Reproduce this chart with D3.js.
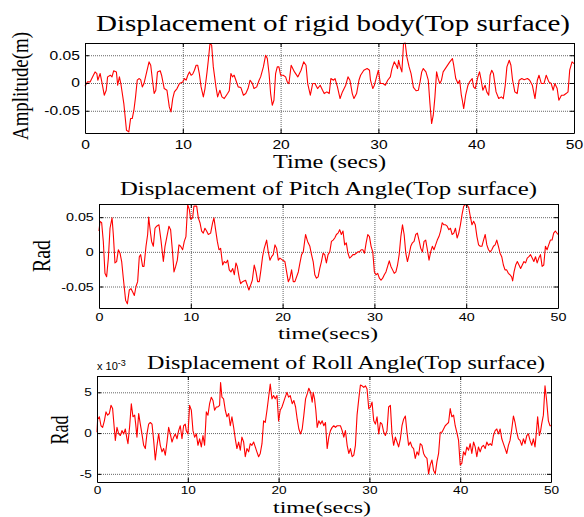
<!DOCTYPE html>
<html lang="en">
<head>
<meta charset="UTF-8">
<title>Displacement of Top surface</title>
<script src="https://d3js.org/d3.v7.min.js"></script>
<style>
  body { margin: 0; background: #fff; }
  .title, .label { font-family: "Liberation Serif", "Times New Roman", Times, serif; font-weight: 400; fill: #000; }
  .tick text { font-family: "Liberation Sans", Arial, sans-serif; fill: #000; }
  .grid line { stroke: #666; stroke-dasharray: 1,1; stroke-width: 1; }
  .grid path { display: none; }
  .frame path, .frame line { stroke: #000; }
  .exp { font-family: "Liberation Sans", Arial, sans-serif; font-size: 11px; }
</style>
</head>
<body>
<svg id="chart" width="584" height="517"></svg>
<script>
// tick values
const timeTicks = [0, 10, 20, 30, 40, 50];
const rigidTicks = [-0.05, 0, 0.05];
const pitchTicks = [-0.05, 0, 0.05];
const rollTicks = [-5, 0, 5];

// [time (s), displacement (m)]
const rigidSeries = [[0.00,-0.006],[0.24,0.002],[0.52,0.002],[0.86,0.014],[1.03,0.020],[1.21,0.017],[1.31,0.005],[1.55,0.017],[1.72,0.002],[1.97,-0.022],[2.17,-0.013],[2.31,0.011],[2.59,0.014],[2.76,0.011],[2.93,0.022],[3.21,0.020],[3.34,-0.004],[3.52,0.011],[3.69,-0.004],[3.97,-0.037],[4.24,-0.085],[4.48,-0.088],[4.66,-0.064],[4.83,-0.064],[5.00,-0.049],[5.17,-0.025],[5.34,0.005],[5.52,0.008],[5.69,0.006],[5.86,-0.007],[6.03,-0.001],[6.31,0.020],[6.55,0.038],[6.72,0.032],[6.90,0.005],[7.07,-0.019],[7.24,-0.013],[7.41,0.020],[7.69,0.022],[7.83,0.014],[8.10,-0.010],[8.38,-0.013],[8.62,-0.043],[8.79,-0.052],[8.97,-0.028],[9.14,-0.016],[9.41,-0.010],[9.66,-0.001],[10.00,0.002],[10.17,0.008],[10.34,0.005],[10.51,0.014],[10.68,0.020],[10.85,0.014],[11.01,0.016],[11.19,0.023],[11.36,0.032],[11.52,0.032],[11.69,0.017],[11.87,-0.007],[12.10,-0.025],[12.27,-0.010],[12.48,0.020],[12.61,0.041],[12.78,0.071],[12.95,0.068],[13.12,0.029],[13.39,-0.007],[13.56,-0.025],[13.79,-0.013],[14.00,-0.025],[14.24,-0.028],[14.58,-0.019],[14.75,-0.014],[14.92,0.017],[15.08,0.011],[15.25,0.014],[15.43,0.005],[15.66,-0.007],[15.93,-0.008],[16.20,-0.022],[16.44,-0.019],[16.67,-0.010],[16.88,0.005],[17.12,-0.001],[17.28,-0.010],[17.56,-0.007],[17.80,0.005],[17.96,0.011],[18.24,0.029],[18.47,0.050],[18.64,0.044],[18.82,0.017],[18.98,-0.019],[19.15,-0.040],[19.32,-0.031],[19.49,0.017],[19.66,0.029],[19.83,0.029],[20.00,0.014],[20.27,0.014],[20.51,0.011],[20.68,0.002],[20.85,-0.001],[21.08,0.032],[21.42,0.020],[21.76,0.011],[22.09,0.023],[22.36,0.038],[22.60,0.032],[22.77,-0.001],[23.04,-0.022],[23.28,-0.001],[23.51,-0.001],[23.78,-0.010],[24.05,-0.004],[24.29,-0.013],[24.46,-0.019],[24.73,-0.016],[24.97,-0.019],[25.14,0.008],[25.41,0.005],[25.57,0.008],[25.81,-0.007],[26.08,-0.028],[26.32,-0.016],[26.66,-0.004],[26.89,0.011],[27.09,0.005],[27.33,-0.019],[27.50,-0.028],[27.77,-0.019],[28.01,0.005],[28.18,0.014],[28.51,0.023],[28.85,0.026],[29.09,0.023],[29.19,0.005],[29.43,-0.010],[29.59,-0.004],[29.86,0.014],[30.00,0.023],[30.20,-0.001],[30.47,-0.001],[30.71,-0.004],[30.95,0.005],[31.22,0.011],[31.39,0.026],[31.62,0.038],[31.82,0.032],[31.96,0.026],[32.06,0.041],[32.23,0.029],[32.40,0.020],[32.57,0.071],[32.74,0.072],[32.91,0.047],[33.14,0.029],[33.34,0.017],[33.58,-0.008],[33.85,-0.014],[34.09,-0.013],[34.26,0.002],[34.43,0.020],[34.59,0.026],[34.86,0.020],[35.10,0.005],[35.27,-0.037],[35.44,-0.073],[35.61,-0.058],[35.78,-0.025],[35.95,0.020],[36.11,0.008],[36.28,-0.001],[36.45,0.005],[36.62,0.020],[36.96,0.029],[37.30,0.038],[37.57,0.044],[37.70,0.032],[37.91,0.008],[38.14,-0.001],[38.31,0.005],[38.48,-0.022],[38.58,-0.031],[38.72,-0.046],[38.92,-0.022],[39.16,-0.004],[39.32,0.002],[39.59,0.008],[39.73,-0.007],[39.90,-0.010],[40.17,0.011],[40.34,0.020],[40.51,0.005],[40.68,-0.013],[40.91,-0.004],[41.08,-0.016],[41.28,-0.022],[41.42,0.014],[41.59,0.023],[41.76,0.017],[42.03,-0.016],[42.30,-0.028],[42.57,-0.025],[42.77,-0.028],[42.97,-0.004],[43.14,0.029],[43.38,0.041],[43.55,0.032],[43.72,0.005],[43.95,-0.016],[44.19,-0.019],[44.39,0.005],[44.66,0.008],[44.90,0.006],[45.24,0.008],[45.47,0.005],[45.74,-0.004],[46.01,-0.028],[46.25,0.005],[46.42,0.014],[46.66,-0.001],[46.93,-0.001],[47.16,0.014],[47.43,0.002],[47.67,-0.001],[47.87,-0.013],[48.04,-0.001],[48.28,-0.010],[48.45,-0.031],[48.72,-0.022],[48.95,-0.022],[49.19,-0.019],[49.39,-0.016],[49.56,0.023],[49.80,0.038],[50.00,0.035]];

// [time (s), pitch angle (rad)]
const pitchSeries = [[0.00,0.030],[0.11,0.044],[0.29,0.042],[0.47,0.015],[0.65,-0.031],[0.83,-0.036],[1.02,-0.009],[1.20,0.034],[1.42,0.049],[1.56,0.025],[1.74,-0.016],[1.92,-0.014],[2.11,0.003],[2.29,-0.002],[2.47,-0.014],[2.65,-0.038],[2.90,-0.070],[3.09,-0.075],[3.30,-0.055],[3.48,-0.053],[3.67,-0.058],[3.85,-0.063],[4.03,-0.050],[4.21,-0.043],[4.39,-0.007],[4.54,-0.004],[4.75,-0.021],[4.90,-0.021],[5.12,0.008],[5.30,0.025],[5.41,0.050],[5.55,0.034],[5.73,0.015],[5.92,0.008],[6.10,0.034],[6.28,0.037],[6.53,0.039],[6.75,0.017],[7.01,-0.014],[7.19,0.008],[7.37,0.020],[7.62,0.037],[7.80,0.032],[7.99,0.003],[8.17,-0.029],[8.35,-0.021],[8.53,-0.012],[8.71,0.010],[8.89,0.008],[9.11,0.003],[9.29,0.015],[9.47,0.022],[9.66,0.068],[9.84,0.061],[9.98,0.047],[10.20,0.049],[10.34,0.066],[10.64,0.066],[10.82,0.049],[11.00,0.042],[11.18,0.030],[11.36,0.027],[11.54,0.034],[11.72,0.030],[11.91,0.025],[12.16,0.027],[12.38,0.042],[12.52,0.049],[12.70,0.032],[12.89,0.015],[13.07,0.003],[13.25,0.005],[13.47,-0.019],[13.65,-0.014],[13.83,-0.016],[14.01,-0.012],[14.19,-0.026],[14.37,-0.029],[14.56,-0.024],[14.74,-0.033],[14.92,-0.016],[15.06,-0.021],[15.28,-0.038],[15.43,-0.046],[15.64,-0.043],[15.79,-0.042],[15.97,-0.041],[16.15,-0.048],[16.33,-0.055],[16.52,-0.048],[16.70,-0.041],[16.91,-0.019],[17.10,-0.029],[17.28,-0.043],[17.46,-0.043],[17.64,-0.026],[17.82,-0.007],[18.00,0.005],[18.26,0.017],[18.44,0.000],[18.62,-0.012],[18.80,-0.007],[18.98,-0.004],[19.17,0.010],[19.35,0.005],[19.53,-0.012],[19.71,-0.009],[20.00,-0.012],[20.25,-0.014],[20.44,-0.029],[20.62,-0.043],[20.80,-0.038],[20.98,-0.026],[21.16,-0.043],[21.34,-0.043],[21.71,-0.029],[21.89,-0.016],[22.07,-0.004],[22.25,0.000],[22.50,0.025],[22.72,0.015],[22.97,0.008],[23.15,-0.004],[23.33,-0.014],[23.51,-0.033],[23.69,-0.038],[23.87,-0.036],[24.05,-0.024],[24.23,-0.014],[24.41,-0.002],[24.59,-0.004],[24.77,-0.016],[24.95,-0.004],[25.14,0.000],[25.32,0.015],[25.50,0.017],[25.68,0.020],[25.86,0.025],[26.04,0.027],[26.22,0.032],[26.40,0.025],[26.58,0.030],[26.76,0.010],[26.94,0.013],[27.12,-0.002],[27.30,-0.009],[27.48,-0.007],[27.66,-0.004],[27.84,-0.004],[28.02,-0.002],[28.20,0.000],[28.38,0.000],[28.56,0.003],[28.74,0.003],[28.92,-0.002],[29.10,0.013],[29.28,0.025],[29.46,0.022],[29.64,0.008],[29.82,0.000],[30.00,-0.029],[30.18,-0.033],[30.36,-0.031],[30.54,-0.038],[30.72,-0.041],[30.90,-0.038],[31.08,-0.033],[31.26,-0.029],[31.44,-0.021],[31.62,-0.013],[31.80,-0.021],[31.98,-0.026],[32.16,-0.031],[32.34,-0.029],[32.52,-0.019],[32.70,-0.004],[32.88,0.022],[33.06,0.039],[33.24,0.025],[33.42,-0.002],[33.60,-0.014],[33.78,-0.004],[33.96,0.008],[34.14,0.013],[34.32,0.015],[34.50,0.025],[34.68,0.027],[34.86,0.017],[35.05,0.005],[35.23,0.000],[35.41,0.015],[35.59,0.017],[35.77,0.003],[35.95,-0.012],[36.13,0.000],[36.31,0.008],[36.49,0.003],[36.67,0.010],[36.85,0.017],[37.03,0.022],[37.21,0.030],[37.39,0.042],[37.57,0.039],[37.75,0.039],[37.93,0.037],[38.11,0.032],[38.29,0.034],[38.47,0.025],[38.65,0.027],[38.83,0.034],[39.01,0.020],[39.19,0.027],[39.37,0.039],[39.55,0.054],[39.73,0.066],[39.91,0.068],[40.09,0.068],[40.27,0.064],[40.45,0.051],[40.63,0.039],[40.81,0.044],[40.99,0.039],[41.17,0.022],[41.35,0.010],[41.53,0.008],[41.71,0.008],[41.89,0.017],[42.07,0.025],[42.25,0.010],[42.43,0.003],[42.61,0.000],[42.79,0.003],[42.97,0.008],[43.15,0.010],[43.33,0.017],[43.51,0.008],[43.69,-0.002],[43.87,-0.007],[44.05,-0.019],[44.23,-0.026],[44.41,-0.026],[44.59,-0.031],[44.77,-0.033],[44.95,-0.036],[45.06,-0.042],[45.21,-0.029],[45.39,-0.019],[45.57,-0.014],[45.75,-0.019],[45.93,-0.024],[46.11,-0.019],[46.29,-0.014],[46.47,-0.016],[46.65,-0.009],[46.83,-0.007],[47.01,-0.004],[47.19,-0.009],[47.37,-0.014],[47.55,-0.007],[47.73,-0.016],[47.91,-0.009],[48.09,-0.004],[48.27,-0.021],[48.45,-0.019],[48.63,0.008],[48.81,0.003],[48.99,0.010],[49.17,0.017],[49.35,0.017],[49.53,0.027],[49.71,0.030],[50.00,0.025]];

// [time (s), roll angle (rad x 10^-3)]
const rollSeries = [[0.00,0.1],[0.07,1.7],[0.26,2.0],[0.44,0.9],[0.62,0.7],[0.81,1.5],[0.99,2.6],[1.17,2.2],[1.36,2.4],[1.54,3.4],[1.72,3.0],[1.91,0.5],[2.02,-0.9],[2.20,0.7],[2.39,-0.1],[2.57,-0.3],[2.75,0.3],[2.94,-0.1],[3.12,0.5],[3.30,-0.7],[3.41,-1.3],[3.60,0.9],[3.78,3.6],[3.96,2.0],[4.15,2.2],[4.26,1.1],[4.40,-0.5],[4.59,2.4],[4.77,1.1],[4.95,-0.1],[5.14,-1.5],[5.32,-1.9],[5.50,-0.1],[5.69,1.1],[5.87,1.3],[6.06,1.1],[6.24,-0.9],[6.42,-3.3],[6.61,-1.5],[6.79,-0.1],[6.97,-1.5],[7.16,-2.3],[7.34,-1.9],[7.52,-2.7],[7.71,-1.1],[7.89,0.7],[8.07,-0.1],[8.26,-1.1],[8.44,-0.5],[8.62,-0.1],[8.81,-0.7],[8.99,0.3],[9.17,0.9],[9.36,-0.7],[9.54,0.9],[9.72,1.1],[9.83,0.3],[10.02,-0.1],[10.20,3.4],[10.39,2.8],[10.57,0.3],[10.75,-0.5],[10.94,-0.1],[11.12,-1.5],[11.30,-0.7],[11.49,-1.7],[11.67,-0.3],[11.85,-1.5],[12.04,2.6],[12.22,2.2],[12.40,3.6],[12.59,4.4],[12.77,4.0],[12.95,2.8],[13.14,3.2],[13.32,3.2],[13.50,3.4],[13.61,6.2],[13.76,4.4],[13.94,4.2],[14.13,2.8],[14.31,2.0],[14.50,2.4],[14.68,0.9],[14.86,2.0],[15.05,0.7],[15.23,-0.7],[15.41,-1.9],[15.60,-1.1],[15.78,-2.1],[15.96,-0.5],[16.15,-1.1],[16.33,-2.9],[16.51,-1.9],[16.70,-2.3],[16.88,-1.3],[17.06,-1.5],[17.25,-1.1],[17.43,-1.7],[17.61,-2.3],[17.80,-2.9],[17.98,-2.5],[18.17,-1.3],[18.35,1.5],[18.53,1.3],[18.72,2.8],[18.90,4.4],[19.08,6.0],[19.27,4.2],[19.45,4.6],[19.63,4.2],[19.82,4.6],[20.00,1.5],[20.18,2.8],[20.37,3.2],[20.55,3.8],[20.73,4.4],[20.92,5.0],[21.10,4.4],[21.28,4.6],[21.50,3.6],[21.68,4.0],[21.87,3.2],[22.05,1.7],[22.23,0.5],[22.42,-0.1],[22.60,0.5],[22.78,2.2],[22.97,4.2],[23.15,4.8],[23.33,5.5],[23.52,5.0],[23.70,3.8],[23.81,5.0],[23.96,4.2],[24.10,2.8],[24.25,0.7],[24.43,1.5],[24.62,1.1],[24.80,1.5],[24.98,0.9],[25.16,1.3],[25.35,-1.9],[25.53,-0.5],[25.71,0.3],[25.90,0.7],[26.08,0.9],[26.26,0.7],[26.45,0.9],[26.63,0.9],[26.81,0.9],[27.00,0.3],[27.18,-0.5],[27.36,0.3],[27.55,-1.5],[27.73,-2.5],[27.91,-1.9],[28.10,-2.9],[28.28,-2.7],[28.46,-1.5],[28.64,2.2],[28.83,4.2],[29.01,5.9],[29.19,5.8],[29.38,5.6],[29.56,5.8],[29.74,5.4],[29.93,3.0],[30.11,3.2],[30.29,3.8],[30.48,1.5],[30.66,1.1],[30.84,2.0],[31.03,-0.1],[31.21,1.3],[31.39,1.1],[31.58,0.1],[31.76,-0.3],[31.94,0.3],[32.12,3.2],[32.31,3.4],[32.49,-0.1],[32.67,-1.5],[32.86,-0.5],[33.04,-1.1],[33.22,-1.7],[33.41,-0.7],[33.59,0.9],[33.77,1.7],[33.96,2.1],[34.14,0.1],[34.32,-1.5],[34.51,-1.1],[34.69,-1.7],[34.87,-1.9],[35.05,-3.1],[35.24,-2.3],[35.42,-2.7],[35.60,-1.3],[35.79,-1.5],[35.97,-2.5],[36.15,-2.9],[36.34,-3.1],[36.52,-5.0],[36.70,-3.9],[36.89,-3.3],[37.07,-4.6],[37.25,-5.0],[37.44,-3.5],[37.62,-2.5],[37.80,0.1],[37.99,0.1],[38.17,0.5],[38.35,0.9],[38.53,1.1],[38.72,1.3],[38.90,3.0],[39.08,2.0],[39.27,2.2],[39.45,0.9],[39.63,0.1],[39.82,-0.9],[40.00,-3.9],[40.18,-3.7],[40.37,-2.3],[40.55,-2.7],[40.73,-1.7],[40.92,-2.1],[41.10,-1.3],[41.28,-2.5],[41.47,-1.1],[41.65,-1.7],[41.83,-2.9],[42.01,-1.7],[42.20,-2.3],[42.38,-1.7],[42.56,-1.5],[42.75,-1.9],[42.93,-1.1],[43.11,-1.5],[43.30,-1.3],[43.48,-1.5],[43.66,-0.3],[43.85,0.3],[44.03,0.5],[44.21,-0.1],[44.40,0.5],[44.58,-0.7],[44.76,-1.3],[44.95,-1.9],[45.13,-2.5],[45.31,-1.5],[45.49,-0.9],[45.68,0.5],[45.86,2.1],[46.04,1.3],[46.23,0.1],[46.41,-0.7],[46.59,-0.9],[46.78,-1.5],[46.96,-0.7],[47.14,-1.3],[47.33,-0.3],[47.51,-0.1],[47.69,-0.9],[47.88,-1.5],[48.06,-0.7],[48.24,-1.7],[48.42,0.5],[48.53,2.0],[48.72,-0.3],[48.86,0.3],[48.97,1.1],[49.16,2.2],[49.34,5.8],[49.52,4.0],[49.71,1.5],[49.89,0.9],[50.00,0.9]];

const svg = d3.select("#chart");

// layout of the three stacked axes
// titlePos / xlabPos: [x, baseline, width, size]; ylabPos: [baseline x, centre y, length, size, thickness scale]
const panels = [
    {data: rigidSeries, yDomain: [-0.09, 0.072], yTicks: rigidTicks,
     box: [85, 574, 43, 133], tickSize: 12, tickPad: 7,
     title: "Displacement of rigid body(Top surface)", titlePos: [96, 31, 474, 23.5],
     ylabel: "Amplitude(m)", ylabPos: [28, 86, 108, 19, 1.2],
     xlabel: "Time (secs)", xlabPos: [273, 168, 113, 19.5]},
    {data: pitchSeries, yDomain: [-0.081, 0.069], yTicks: pitchTicks,
     box: [99, 558, 204, 308], tickSize: 11, tickPad: 5,
     title: "Displacement of Pitch Angle(Top surface)", titlePos: [120, 195, 417, 19.5],
     ylabel: "Rad", ylabPos: [50, 256, 32, 20, 1.3],
     xlabel: "time(secs)", xlabPos: [278, 339, 100, 16.5]},
    {data: rollSeries, yDomain: [-6, 7], yTicks: rollTicks,
     box: [97, 551, 376, 482], tickSize: 10.5, tickPad: 5,
     title: "Displacement of Roll Angle(Top surface)", titlePos: [147, 369, 398, 18.5],
     ylabel: "Rad", ylabPos: [68, 430, 29, 18, 1.45],
     xlabel: "time(secs)", xlabPos: [273, 513, 98, 16],
     exponent: true}
];

const fmt = d => d === 0 ? "0" : String(d);

panels.forEach(p => {
    const [left, right, top, bottom] = p.box;
    const x = d3.scaleLinear().domain([0, 50]).range([left, right]);
    const y = d3.scaleLinear().domain(p.yDomain).range([bottom, top]);
    const g = svg.append("g");

    // dotted grid
    g.append("g").attr("class", "grid")
        .attr("transform", `translate(0,${bottom})`)
        .call(d3.axisBottom(x).tickValues(timeTicks).tickSize(-(bottom - top)).tickFormat(""));
    g.append("g").attr("class", "grid")
        .attr("transform", `translate(${left},0)`)
        .call(d3.axisLeft(y).tickValues(p.yTicks).tickSize(-(right - left)).tickFormat(""));

    // signal
    const line = d3.line().x(d => x(d[0])).y(d => y(d[1]));
    g.append("path").datum(p.data)
        .attr("d", line)
        .attr("fill", "none")
        .attr("stroke", "#ff0000")
        .attr("stroke-width", 1.1)
        .attr("stroke-linejoin", "round");

    // box with inward ticks on all sides
    g.append("g").attr("class", "frame")
        .attr("transform", `translate(0,${bottom})`)
        .call(d3.axisBottom(x).tickValues(timeTicks).tickSizeInner(-4).tickSizeOuter(0).tickPadding(p.tickPad).tickFormat(fmt));
    g.append("g").attr("class", "frame")
        .attr("transform", `translate(${left},0)`)
        .call(d3.axisLeft(y).tickValues(p.yTicks).tickSizeInner(-4).tickSizeOuter(0).tickPadding(4).tickFormat(fmt));
    g.append("g").attr("class", "frame")
        .attr("transform", `translate(0,${top})`)
        .call(d3.axisTop(x).tickValues(timeTicks).tickSizeInner(-4).tickSizeOuter(0).tickFormat(""));
    g.append("g").attr("class", "frame")
        .attr("transform", `translate(${right},0)`)
        .call(d3.axisRight(y).tickValues(p.yTicks).tickSizeInner(-4).tickSizeOuter(0).tickFormat(""));
    g.selectAll(".frame .tick text")
        .style("font-size", p.tickSize + "px")
        .attr("transform", "scale(1.3,1)");

    // titles and labels (the picture is stretched sideways, so fit the widths)
    const [tx, ty, tw, ts] = p.titlePos;
    g.append("text").attr("class", "title")
        .attr("x", tx).attr("y", ty)
        .attr("font-size", ts)
        .attr("textLength", tw).attr("lengthAdjust", "spacingAndGlyphs")
        .text(p.title);

    const [xx, xy, xw, xs] = p.xlabPos;
    g.append("text").attr("class", "label")
        .attr("x", xx).attr("y", xy)
        .attr("font-size", xs)
        .attr("textLength", xw).attr("lengthAdjust", "spacingAndGlyphs")
        .text(p.xlabel);

    const [lx, ly, lw, ls, lk] = p.ylabPos;
    g.append("text").attr("class", "label")
        .attr("transform", `translate(${lx},${ly}) scale(${lk},1) rotate(-90)`)
        .attr("text-anchor", "middle")
        .attr("font-size", ls)
        .attr("textLength", lw).attr("lengthAdjust", "spacingAndGlyphs")
        .text(p.ylabel);

    if (p.exponent) {
        const e = g.append("text").attr("class", "exp")
            .attr("x", left).attr("y", top - 6);
        e.append("tspan").text("x 10");
        e.append("tspan").attr("dy", -4).attr("font-size", 9).text("-3");
    }
});
</script>
</body>
</html>
